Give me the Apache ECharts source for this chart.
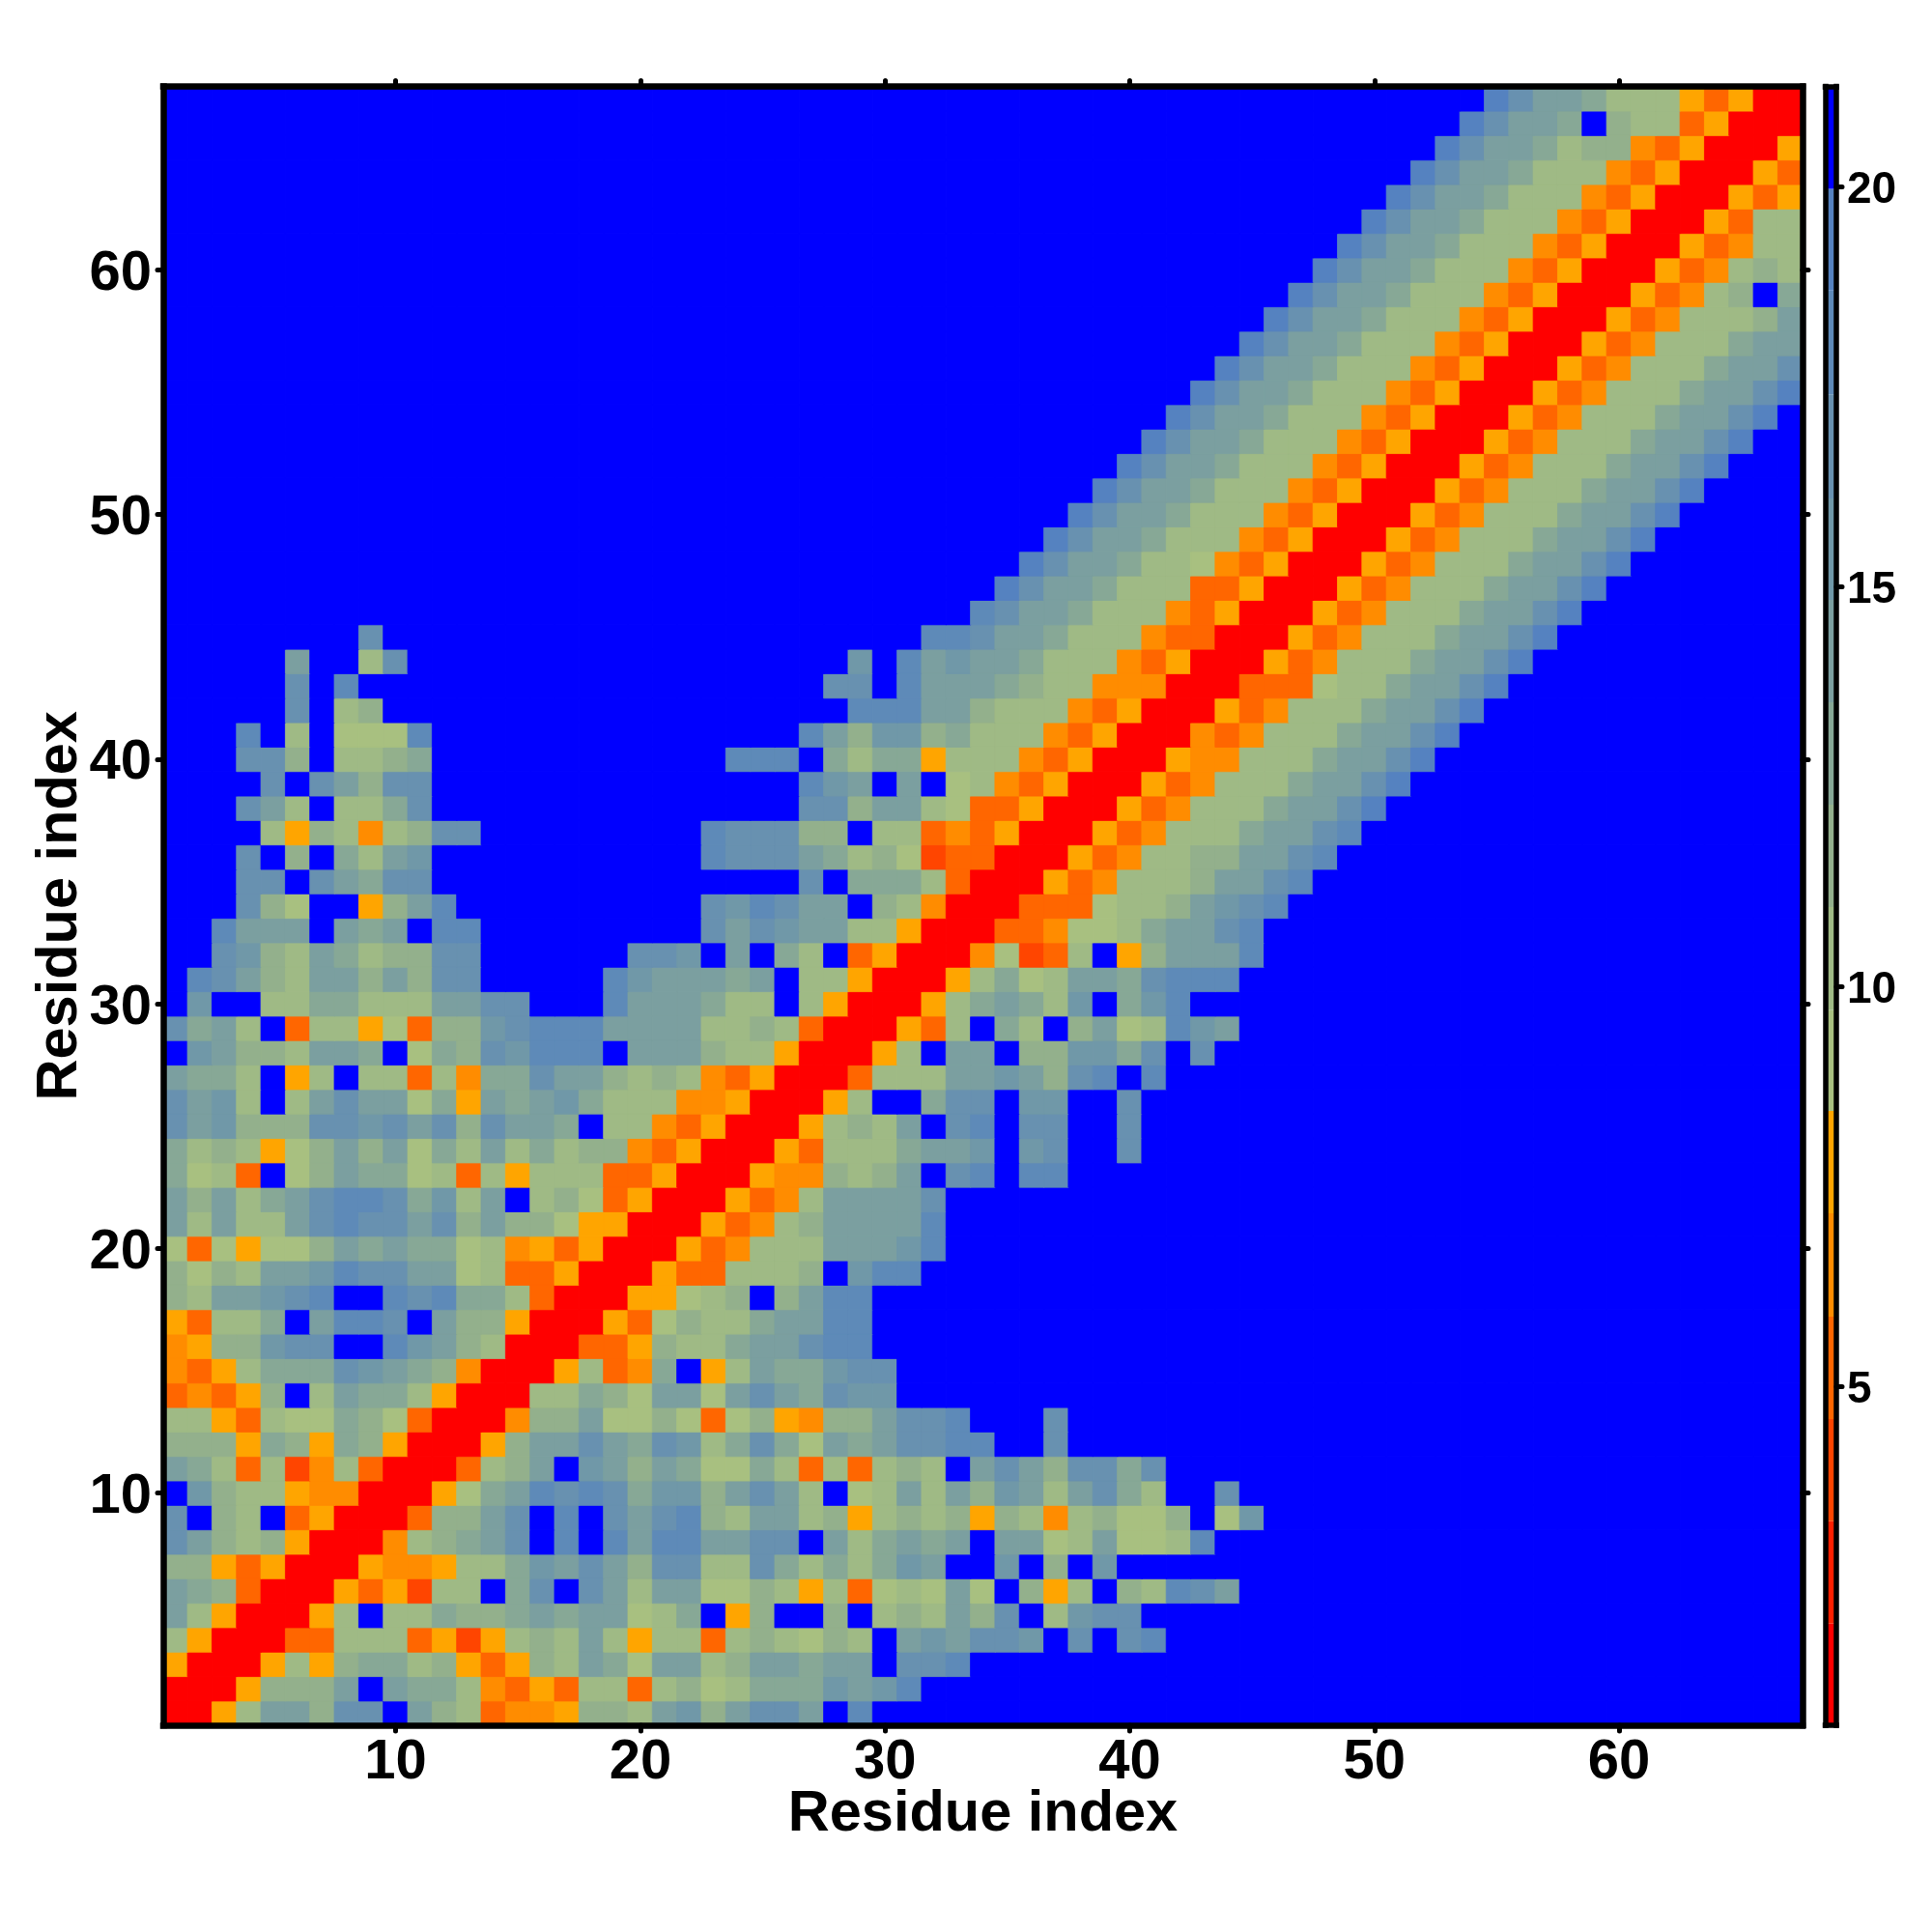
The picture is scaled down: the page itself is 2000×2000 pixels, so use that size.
<!DOCTYPE html>
<html>
<head>
<meta charset="utf-8">
<style>html,body{margin:0;padding:0;background:#fff}#c{width:2000px;height:2000px}</style>
<script src="https://cdn.jsdelivr.net/npm/echarts@6/dist/echarts.min.js"></script>
</head>
<body>
<div id="c"></div>
<script>
// One level code per cell, row 1 first, split in tens. Missing cells at the right end are blue.
const rowsBottomUp = [
"RRA255377B 532OMMA332 5635775B8B",
"RRRA3335B5 442MOAO22O 2312444656 8",
"ARRRA2A344 23AOA32541 552355455B 778",
"2ARRROO222 OAQA23252A 22O232132B 565776B7B7 8",
"52ARRRA2B2 2433454551 24BA3BB3B2 32537B2677",
"543ORRRAOA Q22B47B752 551132A2O1 2151B3A2B3 2875",
"33AOARRRAM MA22465753 7722742424 65BB6B3B6B",
"75323ARRRM 23457B8B85 885577B524 545B551251 128",
"7B32BOARRR O3357B8B75 78325523A2 323A32M231 13B16",
"B6322AMMRR RA14587874 6635752B12 5253652574 2BB7",
"542O2QM2OR RRO235B653 541142O2O2 32B5753774 7",
"333A43A43A RRRA355754 7624741545 7788BB7",
"22AO211431 ORRRM33511 31O13AM335 778BBB7",
"OMOA3B2544 2ARRR22431 5515754766",
"MOA2444765 43MRRRA2OM 4BA2544677",
"MA33677BB8 6532RRROOA 322455788B",
"AO224B5887 B533ARRRAO 132245588B",
"3255678BB8 78442ORRRA A123B3588B",
"3132556877 5512OOARRR AOO2223B68 8",
"1O1A113545 4412MAOARR RAOM222555 68",
"5252257877 5735331AAR RRAOM23555 58",
"5352457887 4625B231OA RRRAOM2555 57",
"412OB13544 12O2A222OO ARRRAMM323 5B78B88",
"4232A13535 142524233M OARRRAO222 4556B67BB7",
"7563337767 5737554B22 MOARRRA232 5B78B77BB7",
"7562B25755 14A5456422 2MMARRRA2B B477B66BB7",
"5442BA2B22 O2M4475532 32MOARRRO2 225565378B 8",
"B65332554B 14376888B5 55322ARRRA 2B55B33664 7B7",
"7452BO22A1 O336788855 552232ORRR AO2B42B351 2865",
"B6BB224422 25577BBB85 55422B2ARR RA245426B4 68",
"B875325535 377BBBBB86 55545B22AR RRA2412554 7888",
"BB76325423 377BBBBBB7 76B5B42BOA RRRM1QO2BA 35558",
"BB8555B545 B88BBBBBBB BB75765522 ARRROOM112 45578",
"BBB731BBA3 58BBBBBBBB BB768755B3 2MRRROOO12 235678",
"BBB77B7547 7BBBBBBBBB BBBBBB7B44 42ORRRAOM2 2235578",
"BBB7B3B425 6BBBBBBBBB BB87775423 1QOORRRAOM 22335578",
"BBBB2A32M2 377BBBBBBB BB877733B2 2OMOARRRAO M22245578",
"BBB752B224 7BBBBBBBBB BBBBBB7735 521OOARRRA OM22245579",
"BBBB7B7537 7BBBBBBBBB BBBBBB865B 5B12MOARRR AOM22245579",
"BBB773B223 4BBBBBBBBB BBB888B424 4A222MOARR RAMM22245579",
"BBB8B2B111 8BBBBBBBBB BBBBBB8536 634222MOAR RRMOM22245579",
"BBBBB7B23B BBBBBBBBBB BBBBBBBB88 8553222MOA RRRAOM22245579",
"BBBBB7B8BB BBBBBBBBBB BBBBBBB77B 85554322MM MRRROOO12245579",
"BBBBB5BB27 BBBBBBBBBB BBBBBBBB6B 856554222M OARRRAOM22245579",
"BBBBBBBB7B BBBBBBBBBB BBBBBBBBBB B887554222 MOORRRAOM22245579",
"BBBBBBBBBB BBBBBBBBBB BBBBBBBBBB BBB8755422 2MOARRRAOM22245579",
"BBBBBBBBBB BBBBBBBBBB BBBBBBBBBB BBBB975542 22OOARRRAOM22245579",
"BBBBBBBBBB BBBBBBBBBB BBBBBBBBBB BBBBB97554 221MOARRRAOM22245579",
"BBBBBBBBBB BBBBBBBBBB BBBBBBBBBB BBBBBB9755 4222MOARRRAOM22245579",
"BBBBBBBBBB BBBBBBBBBB BBBBBBBBBB BBBBBBB975 54222MOARRRAOM22245579",
"BBBBBBBBBB BBBBBBBBBB BBBBBBBBBB BBBBBBBB97 554222MOARRRAOM22245579",
"BBBBBBBBBB BBBBBBBBBB BBBBBBBBBB BBBBBBBBB9 7554222MOARRRAOM22245579",
"BBBBBBBBBB BBBBBBBBBB BBBBBBBBBB BBBBBBBBBB 97554222MOARRRAOM22245579",
"BBBBBBBBBB BBBBBBBBBB BBBBBBBBBB BBBBBBBBBB B97554222MOARRRAOM22245579",
"BBBBBBBBBB BBBBBBBBBB BBBBBBBBBB BBBBBBBBBB BB97554222MOARRRAOM22245579",
"BBBBBBBBBB BBBBBBBBBB BBBBBBBBBB BBBBBBBBBB BBB97554222MOARRRAOM2224557",
"BBBBBBBBBB BBBBBBBBBB BBBBBBBBBB BBBBBBBBBB BBBB97554222MOARRRAOM222455",
"BBBBBBBBBB BBBBBBBBBB BBBBBBBBBB BBBBBBBBBB BBBBB97554222MOARRRAOM22235",
"BBBBBBBBBB BBBBBBBBBB BBBBBBBBBB BBBBBBBBBB BBBBBB97554222MOARRRAOM23B4",
"BBBBBBBBBB BBBBBBBBBB BBBBBBBBBB BBBBBBBBBB BBBBBBB97554222MOARRRAOM232",
"BBBBBBBBBB BBBBBBBBBB BBBBBBBBBB BBBBBBBBBB BBBBBBBB97554222MOARRRAOM22",
"BBBBBBBBBB BBBBBBBBBB BBBBBBBBBB BBBBBBBBBB BBBBBBBBB97554222MOARRRAO22",
"BBBBBBBBBB BBBBBBBBBB BBBBBBBBBB BBBBBBBBBB BBBBBBBBBB97554222MOARRRAOA",
"BBBBBBBBBB BBBBBBBBBB BBBBBBBBBB BBBBBBBBBB BBBBBBBBBBB97554222MOARRRAO",
"BBBBBBBBBB BBBBBBBBBB BBBBBBBBBB BBBBBBBBBB BBBBBBBBBBBB97554233MOARRRA",
"BBBBBBBBBB BBBBBBBBBB BBBBBBBBBB BBBBBBBBBB BBBBBBBBBBBBB97554B322OARRR",
"BBBBBBBBBB BBBBBBBBBB BBBBBBBBBB BBBBBBBBBB BBBBBBBBBBBBBB97554222AOARR"
];
const levelCodes  = ["R","Q","O","M","A","1","2","3","4","5","6","7","8","9","B"];
const levelValues = [1.4,3.9,5.2,6.5,7.8,9,10.3,11.6,12.9,14.2,15.5,16.8,18,19.3,20.6];
const bandEdges = [0.76,2.03,3.31,4.59,5.87,7.16,8.44,9.7,10.99,12.27,13.55,14.83,16.1,17.4,18.7,19.97,21.25];
const bandColors = ["#ff0000","#ff2000","#ff4500","#ff6600","#ff8c00","#ffa500",
  "#a8c080","#9fba85","#93b08c","#87a896","#7b9fa0","#7098a8","#6891b0","#5e8ab8","#5582c0","#0000ff"];
const residues = Array.from({length:67},(_,i)=>String(i+1));
const colorbarTicks = [5,10,15,20];
const axisTitle = "Residue index";

const FONT = "Liberation Sans";
const colorOf = v => bandColors[bandEdges.findIndex((e,i)=>v>=e && v<bandEdges[i+1])];
const cells = [];
rowsBottomUp.forEach((row,r)=>{
  const parts=row.split(" ");
  parts.forEach((p,i)=>{ if(i<parts.length-1 && p.length!==10) throw new Error("group "+(r+1)+"/"+i); });
  const s=parts.join("");
  if(s.length>67) throw new Error("long "+(r+1)+": "+s.length);
  s.padEnd(67,"B").split("").forEach((c,x)=>{
    const k=levelCodes.indexOf(c);
    if(k<0) throw new Error("code "+c);
    const v=levelValues[k];
    cells.push({value:[x,r,v],itemStyle:{borderColor:colorOf(v),borderWidth:0.8}});
  });
});
const pieces = bandColors.map((color,i)=>({gte:bandEdges[i],lt:bandEdges[i+1],color}));
const bands = bandColors.map((c,i)=>[bandEdges[i],bandEdges[i+1],i]);
const isTen = (i,v)=>Number(v)%10===0;
const line = {show:true,onZero:false,lineStyle:{color:"#000",width:6.5,cap:"square"}};
const cbLine = {show:true,onZero:false,lineStyle:{color:"#000",width:5.5,cap:"square"}};
const tick = {show:true,alignWithLabel:true,interval:isTen,length:6,lineStyle:{color:"#000",width:5,cap:"round"}};
const tickLabel = {show:true,interval:isTen,color:"#000",fontFamily:FONT,fontWeight:"bold",fontSize:58};
const titleStyle = {color:"#000",fontFamily:FONT,fontWeight:"bold",fontSize:59.5};

const chart = echarts.init(document.getElementById("c"),null,{renderer:"canvas"});
chart.setOption({
  animation:false,
  backgroundColor:"#fff",
  grid:[
    {left:169,top:89.5,width:1697,height:1696.5,containLabel:false,outerBoundsMode:"none"},
    {left:1889.5,top:89.5,width:11.5,height:1696.5,containLabel:false,outerBoundsMode:"none"}
  ],
  xAxis:[
    {type:"category",gridIndex:0,position:"bottom",data:residues,z:10,axisLine:line,axisTick:tick,
     axisLabel:Object.assign({margin:10},tickLabel),name:axisTitle,nameLocation:"middle",nameGap:63,nameMoveOverlap:false,nameTextStyle:titleStyle,splitLine:{show:false}},
    {type:"category",gridIndex:0,position:"top",data:residues,z:10,axisLine:line,axisTick:tick,axisLabel:{show:false},splitLine:{show:false}},
    {type:"value",gridIndex:1,position:"bottom",min:0,max:1,z:10,axisLine:cbLine,axisTick:{show:false},axisLabel:{show:false},splitLine:{show:false}},
    {type:"value",gridIndex:1,position:"top",min:0,max:1,z:10,axisLine:cbLine,axisTick:{show:false},axisLabel:{show:false},splitLine:{show:false}}
  ],
  yAxis:[
    {type:"category",gridIndex:0,position:"left",data:residues,z:10,axisLine:line,axisTick:tick,
     axisLabel:Object.assign({},tickLabel,{margin:12,formatter:"{t|{value}}",
       rich:{t:{padding:[9,0,0,0],color:"#000",fontFamily:FONT,fontWeight:"bold",fontSize:58}}}),
     name:axisTitle,nameLocation:"middle",nameGap:76,nameMoveOverlap:false,nameTextStyle:titleStyle,splitLine:{show:false}},
    {type:"category",gridIndex:0,position:"right",data:residues,z:10,axisLine:line,axisTick:tick,axisLabel:{show:false},splitLine:{show:false}},
    {type:"value",gridIndex:1,position:"left",min:bandEdges[0],max:bandEdges[bandEdges.length-1],z:10,axisLine:cbLine,axisTick:{show:false},axisLabel:{show:false},splitLine:{show:false}},
    {type:"value",gridIndex:1,position:"right",min:bandEdges[0],max:bandEdges[bandEdges.length-1],z:10,axisLine:cbLine,
     axisTick:{show:true,customValues:colorbarTicks,length:6,lineStyle:{color:"#000",width:5,cap:"round"}},
     axisLabel:{show:true,customValues:colorbarTicks,margin:11,formatter:"{t|{value}}",
       rich:{t:{padding:[8,0,0,0],color:"#000",fontFamily:FONT,fontWeight:"bold",fontSize:46}}},splitLine:{show:false}}
  ],
  visualMap:{type:"piecewise",show:false,seriesIndex:0,dimension:2,pieces:pieces,outOfRange:{color:"#0000ff"}},
  series:[
    {type:"heatmap",xAxisIndex:0,yAxisIndex:0,data:cells,progressive:0,emphasis:{disabled:true},silent:true},
    {type:"custom",xAxisIndex:2,yAxisIndex:2,data:bands,encode:{y:[0,1]},silent:true,clip:true,
     renderItem:function(params,api){
       const a=api.coord([0,api.value(0)]), b=api.coord([1,api.value(1)]);
       return {type:"rect",shape:{x:a[0],y:b[1],width:b[0]-a[0],height:a[1]-b[1]},style:{fill:bandColors[api.value(2)]}};
     }}
  ]
});
</script>
</body>
</html>
